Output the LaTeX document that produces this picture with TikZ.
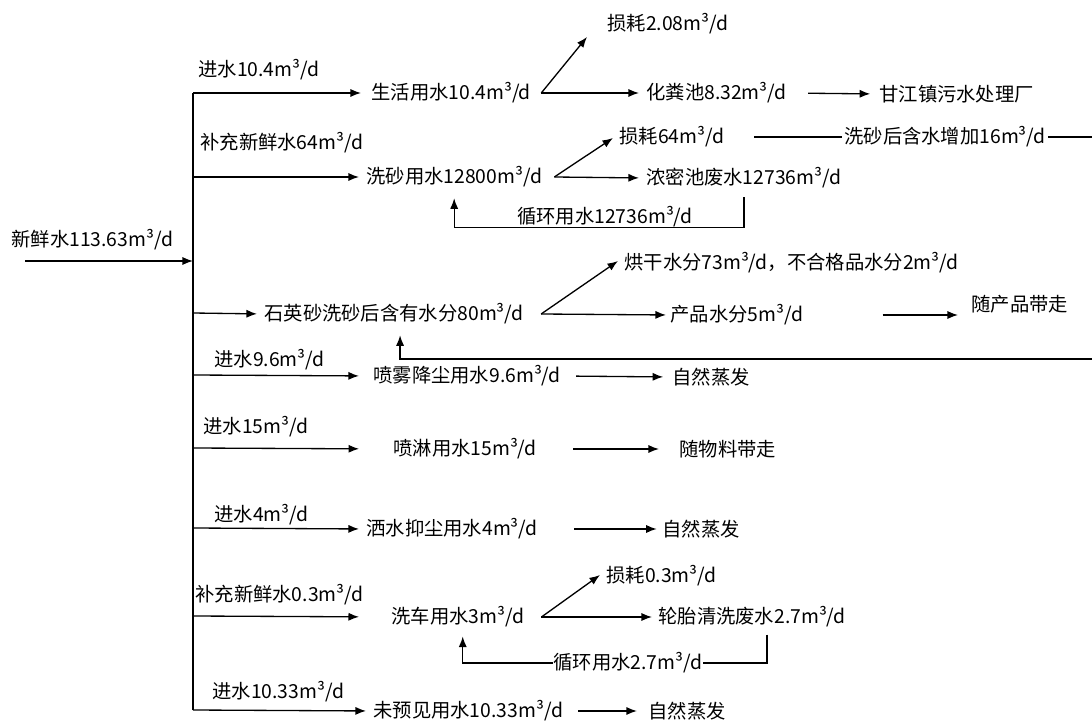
\documentclass[tikz,border=0pt]{standalone}
\usepackage{fontspec}
\setmainfont{Noto Sans CJK SC}
\usetikzlibrary{arrows.meta}

\tikzset{
  txt/.style={anchor=west, inner sep=0pt, font=\fontsize{11}{13}\selectfont},
  flow/.style={-{Latex[length=6pt,width=4.6pt]}, line width=0.75pt},
  pipe/.style={line width=0.75pt}
}

\begin{document}
\begin{tikzpicture}[x=0.02cm, y=-0.02cm]
  \useasboundingbox (0,0) rectangle (1092,722);
  % fresh water in
  \node[txt] (fresh) at (11,240) {新鲜水113.63m³/d};
  \coordinate (src) at (25,261);
  \coordinate (b0) at (193,261);
  \draw[flow] (src) -- (b0);
  % main pipe
  \coordinate (b1) at (193,93);
  \coordinate (b2) at (193,177);
  \coordinate (b3) at (193,313);
  \coordinate (b4) at (193,375);
  \coordinate (b5) at (193,448);
  \coordinate (b6) at (193,528);
  \coordinate (b7) at (193,616);
  \coordinate (b8) at (193,710);
  \draw[pipe] (b1) -- (b8);

  % domestic water
  \node[txt] (in1) at (198,70) {进水10.4m³/d};
  \node[txt] (u1) at (371,93) {生活用水10.4m³/d};
  \node[txt] (loss1) at (607,24) {损耗2.08m³/d};
  \node[txt] (sep1) at (646,93) {化粪池8.32m³/d};
  \node[txt] (plant) at (879,94) {甘江镇污水处理厂};
  \draw[flow, shorten >=5.7pt] (b1) -- (u1.west);
  \coordinate (s1) at ([shift={(10,0)}]u1.east);
  \draw[flow] (s1) -- ([shift={(-20,13)}]loss1.west);
  \draw[flow, shorten >=4pt] (s1) -- (sep1.west);
  \draw[flow, shorten <=12pt, shorten >=5pt] (sep1.east) -- (plant.west);

  % sand washing
  \node[txt] (in2) at (200,143) {补充新鲜水64m³/d};
  \node[txt] (u2) at (366,177) {洗砂用水12800m³/d};
  \node[txt] (loss2) at (619,137) {损耗64m³/d};
  \node[txt] (inc) at (844,137) {洗砂后含水增加16m³/d};
  \node[txt] (pond) at (646,178) {浓密池废水12736m³/d};
  \node[txt, anchor=center] (rec2) at (605,217) {循环用水12736m³/d};
  \coordinate (e1) at (1092,137);
  \draw[flow, shorten >=4pt] (b2) -- (u2.west);
  \coordinate (s2) at ([shift={(12,0)}]u2.east);
  \draw[flow] (s2) -- ([shift={(-6,1)}]loss2.west);
  \draw[flow, shorten >=4pt] (s2) -- (pond.west);
  \draw[pipe, shorten <=17pt, shorten >=1pt] (loss2.east) -- (inc.west);
  \draw[pipe, shorten <=1pt] (inc.east) -- (e1);
  \draw[flow, shorten <=5pt, shorten >=6pt] (pond.south) |- (rec2.south) -| (u2.south);

  % quartz sand moisture
  \node[txt] (u3) at (264,314) {石英砂洗砂后含有水分80m³/d};
  \node[txt] (dry) at (624,263) {烘干水分73m³/d，不合格品水分2m³/d};
  \node[txt] (prod) at (670,315) {产品水分5m³/d};
  \node[txt] (carry) at (971,304) {随产品带走};
  \coordinate (e2) at (1092,359);
  \draw[flow, shorten >=4pt] (b3) -- (u3.west);
  \coordinate (s3) at ([shift={(17,0)}]u3.east);
  \draw[flow] (s3) -- ([shift={(-6,-2)}]dry.west);
  \draw[flow, shorten >=2.3pt] (s3) -- (prod.west);
  \draw[flow, shorten <=45pt, shorten >=7.4pt] (prod.east) -- (carry.west |- prod.west);
  \draw[flow, shorten >=6pt] (e2) -| ([shift={(6,0)}]u3.south);

  % spray dust
  \node[txt] (in4) at (214,360) {进水9.6m³/d};
  \node[txt] (u4) at (373,376) {喷雾降尘用水9.6m³/d};
  \node[txt] (evap4) at (672,377) {自然蒸发};
  \draw[flow, shorten >=8pt] (b4) -- (u4.west);
  \draw[flow, shorten <=8.5pt, shorten >=5pt] (u4.east) -- (evap4.west);

  % sprinkling
  \node[txt] (in5) at (203,427) {进水15m³/d};
  \node[txt] (u5) at (393,449) {喷淋用水15m³/d};
  \node[txt] (carry5) at (679,449) {随物料带走};
  \draw[flow, shorten >=19.3pt] (b5) -- (u5.west);
  \draw[flow, shorten <=20.5pt, shorten >=11.4pt] (u5.east) -- (carry5.west);

  % watering
  \node[txt] (in6) at (214,515) {进水4m³/d};
  \node[txt] (u6) at (366,529) {洒水抑尘用水4m³/d};
  \node[txt] (evap6) at (662,529) {自然蒸发};
  \draw[flow, shorten >=4pt] (b6) -- (u6.west);
  \draw[flow, shorten <=20.5pt, shorten >=3pt] (u6.east) -- (evap6.west);

  % car washing
  \node[txt] (in7) at (195,595) {补充新鲜水0.3m³/d};
  \node[txt] (u7) at (391,617) {洗车用水3m³/d};
  \node[txt] (loss7) at (606,576) {损耗0.3m³/d};
  \node[txt] (tire) at (658,617) {轮胎清洗废水2.7m³/d};
  \node[txt, anchor=center] (rec7) at (628,663) {循环用水2.7m³/d};
  \draw[flow, shorten >=18.2pt] (b7) -- (u7.west);
  \coordinate (s7) at ([shift={(17,0)}]u7.east);
  \draw[flow] (s7) -- ([shift={(-6,-1)}]loss7.west);
  \draw[flow, shorten >=3.4pt] (s7) -- (tire.west);
  \draw[pipe, shorten <=4pt] ([shift={(15,0)}]tire.south) |- (rec7.east);
  \draw[flow, shorten >=5pt] (rec7.west) -| ([shift={(5,0)}]u7.south);

  % unforeseen
  \node[txt] (in8) at (212,692) {进水10.33m³/d};
  \node[txt] (u8) at (373,711) {未预见用水10.33m³/d};
  \node[txt] (evap8) at (648,711) {自然蒸发};
  \draw[flow, shorten >=4pt] (b8) -- (u8.west);
  \draw[flow, shorten <=8.5pt, shorten >=6.3pt] (u8.east) -- (evap8.west);
\end{tikzpicture}
\end{document}
